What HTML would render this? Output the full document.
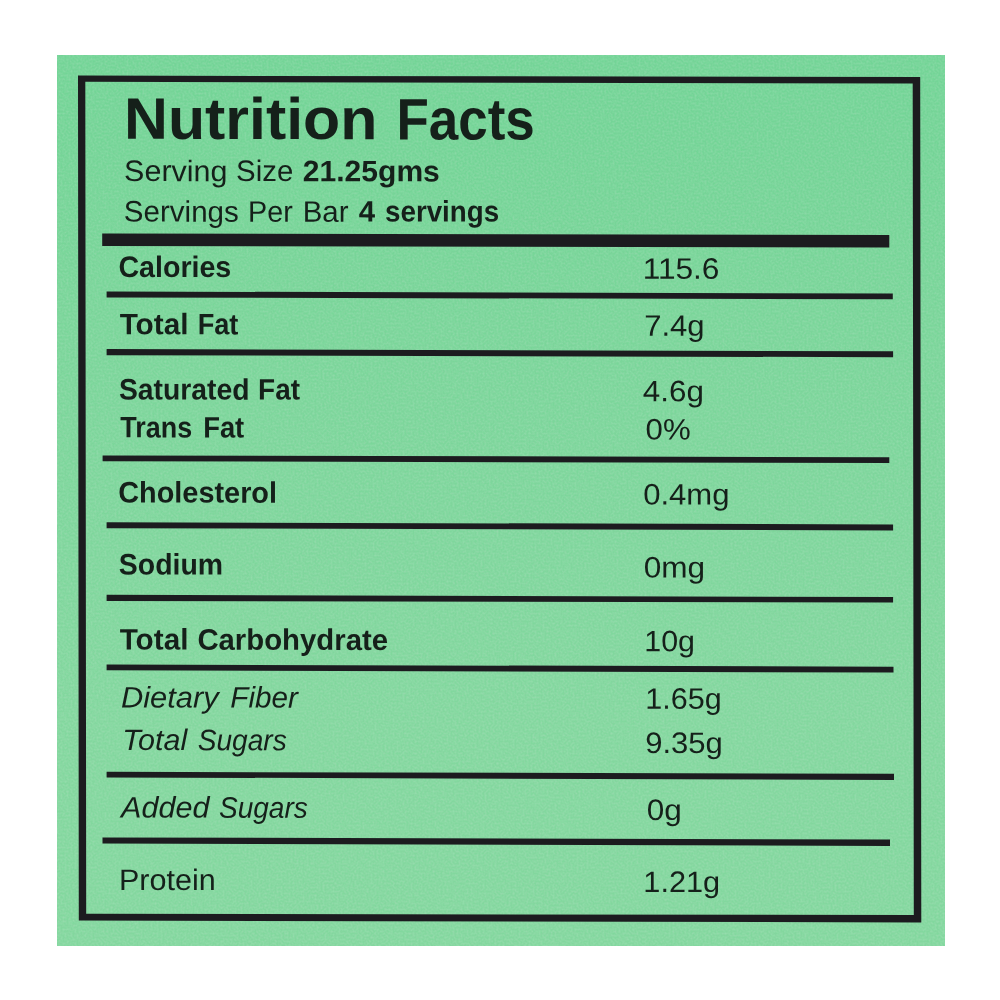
<!DOCTYPE html>
<html lang="en"><head><meta charset="utf-8"><title>Nutrition Facts</title>
<style>
html,body{margin:0;padding:0;background:#fff;}
body{width:1000px;height:1000px;position:relative;overflow:hidden;font-family:"Liberation Sans",sans-serif;color:#15201a;}
#label{filter:blur(0.5px);position:absolute;left:57px;top:55px;width:888px;height:890.5px;background:linear-gradient(180deg,#72d596 0%,#73d596 10%,#79d699 30%,#7ed79c 55%,#82d89e 75%,#82d89e 100%);}
#grain{position:absolute;left:57px;top:55px;}
#rules{position:absolute;left:0;top:0;}
#ink{position:absolute;left:0;top:0;width:1000px;height:1000px;filter:blur(0.45px);}
.ph{position:static;}
.t{position:absolute;left:0;top:0;display:block;white-space:nowrap;line-height:1;transform-origin:0 0;}
.b{font-weight:bold}.i{font-style:italic}
</style></head><body>
<div id="label"></div>
<svg id="grain" width="888" height="891" viewBox="0 0 888 891" aria-hidden="true"><filter id="n" x="0" y="0" width="100%" height="100%"><feTurbulence type="fractalNoise" baseFrequency="0.55" numOctaves="2" seed="7" result="t"/><feColorMatrix type="matrix" values="0 0 0 0 0.5  0 0 0 0 0.5  0 0 0 0 0.5  1.6 0 0 0 -0.55"/></filter><filter id="n2" x="0" y="0" width="100%" height="100%"><feTurbulence type="fractalNoise" baseFrequency="0.5" numOctaves="2" seed="23"/><feColorMatrix type="matrix" values="0 0 0 0 1  0 0 0 0 1  0 0 0 0 1  1.6 0 0 0 -0.55"/></filter><rect width="888" height="891" fill="#000" filter="url(#n)" opacity="0.13"/><rect width="888" height="891" fill="#fff" filter="url(#n2)" opacity="0.16"/></svg>
<div id="ink">
<svg id="rules" width="1000" height="1000" viewBox="0 0 1000 1000" aria-hidden="true"><g fill="#1c1b1f"><path fill-rule="evenodd" d="M78.00 75.60 L920.20 77.00 L921.30 922.40 L78.80 920.50 Z M85.30 81.80 L912.70 83.50 L913.80 915.10 L86.20 913.80 Z"/><polygon points="102.20,233.40 889.30,235.10 889.30,247.60 102.20,246.00"/><polygon points="106.60,291.50 892.80,293.50 892.80,299.30 106.60,297.40"/><polygon points="106.60,349.10 893.10,351.30 893.10,357.20 106.60,355.20"/><polygon points="102.60,455.40 889.30,457.20 889.30,463.10 102.60,461.20"/><polygon points="106.60,522.30 893.10,524.40 893.10,530.40 106.60,528.20"/><polygon points="106.60,594.80 893.10,597.00 893.10,602.60 106.60,600.90"/><polygon points="106.60,664.50 893.50,666.70 893.50,672.60 106.60,670.30"/><polygon points="106.60,771.80 894.00,773.80 894.00,779.90 106.60,777.40"/><polygon points="102.50,837.40 890.00,839.60 890.00,845.90 102.50,843.60"/></g></svg>
<div class="ph"><span class="t b" style="font-size:58.6px;transform:matrix(1.0382,0.00187,0,1,123.99,89.80)">Nutrition</span> <span class="t b" style="font-size:58.6px;transform:matrix(0.9039,0.00163,0,1,396.39,90.40)">Facts</span></div>
<div class="ph"><span class="t" style="font-size:29.6px;transform:matrix(1.0301,0.00185,0,1,124.10,156.04)">Serving</span> <span class="t" style="font-size:29.6px;transform:matrix(0.9928,0.00179,0,1,236.11,156.04)">Size</span> <span class="t b" style="font-size:29.6px;transform:matrix(1.0158,0.00183,0,1,302.80,156.19)">21.25gms</span></div>
<div class="ph"><span class="t" style="font-size:29.6px;transform:matrix(0.9982,0.00180,0,1,123.87,196.54)">Servings</span> <span class="t" style="font-size:29.6px;transform:matrix(0.9709,0.00175,0,1,248.08,196.64)">Per</span> <span class="t" style="font-size:29.6px;transform:matrix(0.9956,0.00179,0,1,302.70,196.74)">Bar</span> <span class="t b" style="font-size:29.6px;transform:matrix(0.9928,0.00179,0,1,358.83,196.44)">4</span> <span class="t b" style="font-size:29.6px;transform:matrix(0.9376,0.00169,0,1,385.02,196.44)">servings</span></div>
<div class="ph"><span class="t b" style="font-size:29.6px;transform:matrix(0.9665,0.00174,0,1,118.40,251.94)">Calories</span></div>
<div class="ph"><span class="t b" style="font-size:29.6px;transform:matrix(1.0056,0.00181,0,1,119.65,309.24)">Total</span> <span class="t b" style="font-size:29.6px;transform:matrix(0.9177,0.00165,0,1,197.67,309.34)">Fat</span></div>
<div class="ph"><span class="t b" style="font-size:29.6px;transform:matrix(0.9572,0.00172,0,1,118.96,374.44)">Saturated</span> <span class="t b" style="font-size:29.6px;transform:matrix(0.9444,0.00170,0,1,258.08,374.54)">Fat</span></div>
<div class="ph"><span class="t b" style="font-size:29.6px;transform:matrix(0.9100,0.00164,0,1,120.35,412.34)">Trans</span> <span class="t b" style="font-size:29.6px;transform:matrix(0.9258,0.00167,0,1,203.15,412.44)">Fat</span></div>
<div class="ph"><span class="t b" style="font-size:29.6px;transform:matrix(0.9759,0.00176,0,1,118.16,477.44)">Cholesterol</span></div>
<div class="ph"><span class="t b" style="font-size:29.6px;transform:matrix(0.9609,0.00173,0,1,118.85,549.44)">Sodium</span></div>
<div class="ph"><span class="t b" style="font-size:29.6px;transform:matrix(1.0040,0.00181,0,1,119.66,624.44)">Total</span> <span class="t b" style="font-size:29.6px;transform:matrix(0.9908,0.00178,0,1,197.39,624.64)">Carbohydrate</span></div>
<div class="ph"><span class="t i" style="font-size:29.6px;transform:matrix(1.0444,0.00188,0,1,120.89,682.44)">Dietary</span> <span class="t i" style="font-size:29.6px;transform:matrix(1.0022,0.00180,0,1,230.30,682.54)">Fiber</span></div>
<div class="ph"><span class="t i" style="font-size:29.6px;transform:matrix(1.0314,0.00186,0,1,122.17,724.94)">Total</span> <span class="t i" style="font-size:29.6px;transform:matrix(0.9499,0.00171,0,1,197.66,725.14)">Sugars</span></div>
<div class="ph"><span class="t i" style="font-size:29.6px;transform:matrix(1.0321,0.00186,0,1,121.06,792.44)">Added</span> <span class="t i" style="font-size:29.6px;transform:matrix(0.9484,0.00171,0,1,218.92,792.64)">Sugars</span></div>
<div class="ph"><span class="t" style="font-size:29.6px;transform:matrix(1.0318,0.00186,0,1,118.90,864.94)">Protein</span></div>
<div class="ph"><span class="t" style="font-size:29.6px;transform:matrix(1.0687,0.00192,0,1,642.66,253.69)">115.6</span></div>
<div class="ph"><span class="t" style="font-size:29.6px;transform:matrix(1.0485,0.00189,0,1,644.13,310.74)">7.4g</span></div>
<div class="ph"><span class="t" style="font-size:29.6px;transform:matrix(1.0592,0.00191,0,1,642.86,376.19)">4.6g</span></div>
<div class="ph"><span class="t" style="font-size:29.6px;transform:matrix(1.0540,0.00190,0,1,645.59,414.44)">0%</span></div>
<div class="ph"><span class="t" style="font-size:29.6px;transform:matrix(1.0494,0.00189,0,1,643.20,479.44)">0.4mg</span></div>
<div class="ph"><span class="t" style="font-size:29.6px;transform:matrix(1.0665,0.00192,0,1,643.67,552.44)">0mg</span></div>
<div class="ph"><span class="t" style="font-size:29.6px;transform:matrix(1.0269,0.00185,0,1,644.27,626.19)">10g</span></div>
<div class="ph"><span class="t" style="font-size:29.6px;transform:matrix(1.0303,0.00185,0,1,645.29,683.69)">1.65g</span></div>
<div class="ph"><span class="t" style="font-size:29.6px;transform:matrix(1.0490,0.00189,0,1,645.13,727.94)">9.35g</span></div>
<div class="ph"><span class="t" style="font-size:29.6px;transform:matrix(1.0671,0.00192,0,1,646.66,794.94)">0g</span></div>
<div class="ph"><span class="t" style="font-size:29.6px;transform:matrix(1.0373,0.00187,0,1,643.31,866.94)">1.21g</span></div>
</div>
</body></html>
